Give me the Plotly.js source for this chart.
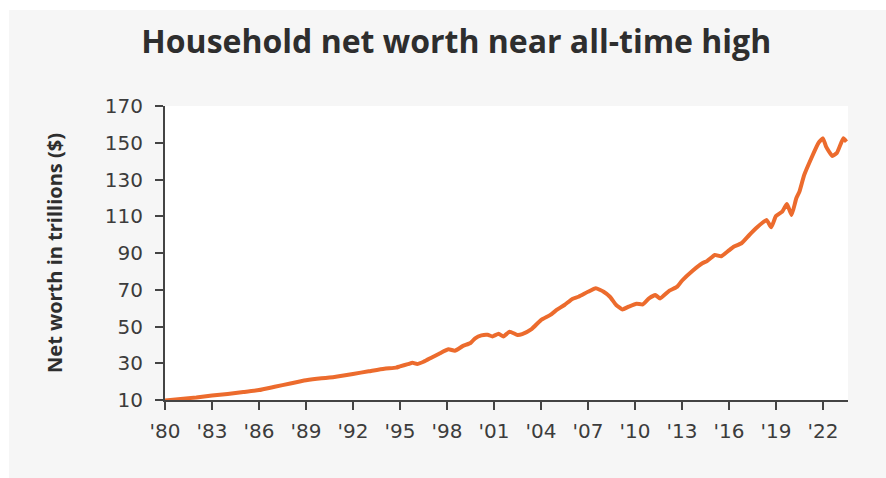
<!DOCTYPE html>
<html>
<head>
<meta charset="utf-8">
<script src="https://cdn.plot.ly/plotly-3.0.1.min.js"></script>
<style>
  html, body { margin: 0; padding: 0; background: #ffffff; }
  #chart { position: absolute; left: 9px; top: 10px; width: 877px; height: 468px; }
</style>
</head>
<body>
<div id="chart"></div>
<script>
// Household net worth, trillions of dollars
const years = [
  1980.0, 1981.0, 1982.0, 1983.0, 1984.0, 1985.0, 1986.0, 1987.0, 1988.0, 1989.0,
  1990.0, 1990.5, 1991.0, 1992.0, 1993.0, 1994.0, 1994.75, 1995.0, 1995.5, 1995.8,
  1996.1, 1996.5, 1997.0, 1997.5, 1998.1, 1998.5, 1999.0, 1999.5, 1999.8, 2000.2,
  2000.6, 2000.9, 2001.3, 2001.6, 2002.0, 2002.5, 2002.8, 2003.4, 2004.0, 2004.6,
  2005.0, 2005.5, 2006.0, 2006.4, 2007.0, 2007.5, 2008.0, 2008.4, 2008.8, 2009.2,
  2009.6, 2010.1, 2010.5, 2010.9, 2011.3, 2011.6, 2012.2, 2012.7, 2013.0, 2013.7,
  2014.3, 2014.6, 2015.1, 2015.5, 2016.0, 2016.3, 2016.8, 2017.3, 2017.8, 2018.4,
  2018.7, 2019.0, 2019.4, 2019.7, 2020.0, 2020.3, 2020.5, 2020.8, 2021.3, 2021.7,
  2022.0, 2022.2, 2022.6, 2022.9, 2023.3, 2023.5
];
const netWorth = [
  9.7, 10.6, 11.4, 12.4, 13.3, 14.3, 15.4, 17.2, 19.0, 20.7,
  21.8, 22.2, 22.8, 24.2, 25.6, 27.0, 27.6, 28.3, 29.5, 30.3,
  29.6, 30.8, 33.0, 35.2, 37.6, 36.8, 39.3, 41.0, 43.6, 45.2,
  45.5, 44.6, 46.0, 44.6, 47.2, 45.4, 45.9, 48.6, 53.5, 56.3,
  59.0, 61.7, 65.0, 66.2, 68.9, 70.8, 68.9, 66.2, 61.7, 59.3,
  60.8, 62.4, 62.0, 65.3, 67.1, 65.3, 69.5, 71.7, 74.9, 80.5,
  84.4, 85.6, 88.9, 88.2, 91.4, 93.4, 95.3, 99.8, 104.0, 108.0,
  104.0, 110.1, 112.5, 116.7, 110.7, 119.8, 123.4, 132.4, 142.4, 149.7,
  152.4, 147.9, 142.8, 144.6, 152.4, 150.6
];
const xTickVals = [1980, 1983, 1986, 1989, 1992, 1995, 1998, 2001, 2004, 2007, 2010, 2013, 2016, 2019, 2022];
const xTickText = ["'80", "'83", "'86", "'89", "'92", "'95", "'98", "'01", "'04", "'07", "'10", "'13", "'16", "'19", "'22"];
const yTickVals = [10, 30, 50, 70, 90, 110, 130, 150, 170];

const trace = {
  x: years,
  y: netWorth,
  type: 'scatter',
  mode: 'lines',
  line: { color: '#ec6b2d', width: 4, shape: 'spline', smoothing: 0.4 },
  hoverinfo: 'skip'
};

const tickFont = { family: 'DejaVu Sans, sans-serif', size: 20, color: '#3c3c3c' };

const layout = {
  width: 877,
  height: 468,
  paper_bgcolor: '#f6f6f6',
  plot_bgcolor: '#ffffff',
  margin: { l: 156, r: 38, t: 96, b: 78 },
  showlegend: false,
  title: {
    text: 'Household net worth near all-time high',
    font: { family: 'Open Sans, sans-serif', size: 32, color: '#2e2e2e', weight: 700 },
    x: 0.51, xref: 'container', xanchor: 'center',
    y: 0.932, yref: 'container', yanchor: 'middle'
  },
  xaxis: {
    range: [1980, 2023.6],
    tickmode: 'array',
    tickvals: xTickVals,
    ticktext: xTickText,
    showgrid: false,
    zeroline: false,
    showline: true,
    linecolor: '#444444',
    linewidth: 2,
    ticks: 'outside',
    ticklen: 8,
    tickwidth: 2,
    tickcolor: '#444444',
    tickfont: tickFont,
    ticklabelstandoff: 4,
    fixedrange: true
  },
  yaxis: {
    range: [10, 170],
    tickmode: 'array',
    tickvals: yTickVals,
    showgrid: false,
    zeroline: false,
    showline: true,
    linecolor: '#444444',
    linewidth: 2,
    ticks: 'outside',
    ticklen: 8,
    tickwidth: 2,
    tickcolor: '#444444',
    tickfont: tickFont,
    ticklabelstandoff: 8,
    title: {
      text: 'Net worth in trillions ($)',
      font: { family: 'Open Sans, sans-serif', size: 20, color: '#2e2e2e', weight: 700 },
      standoff: 37
    },
    fixedrange: true
  }
};

Plotly.newPlot('chart', [trace], layout, { displayModeBar: false, staticPlot: true });
</script>
</body>
</html>
